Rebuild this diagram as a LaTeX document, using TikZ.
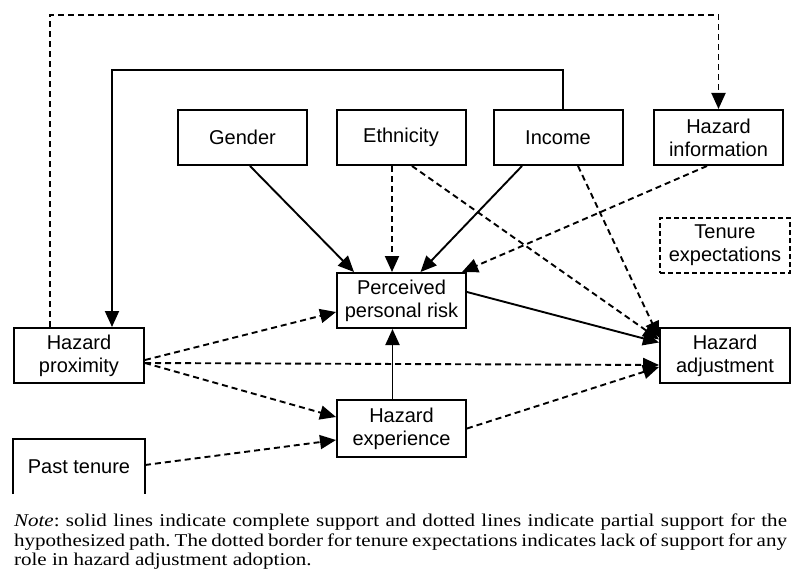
\documentclass[tikz,border=0pt]{standalone}
\usepackage{fontspec}
\setmainfont{Liberation Serif}
\newfontfamily\boxfont{Liberation Sans}
\newfontfamily\notefont[FakeStretch=1.17]{Liberation Serif}
\usepackage{tikz}
\usetikzlibrary{positioning,calc,arrows.meta}

\tikzset{
    varbox/.style={draw, line width=2pt, minimum width=129pt, minimum height=55pt,
        align=center, inner sep=2pt, font=\boxfont\fontsize{20}{23}\selectfont},
    emptybox/.style={varbox, draw=none},
    nobox/.style={varbox, line width=1.6pt, dash pattern=on 5pt off 3pt},
    sline/.style={line width=1.9pt, -{Triangle[length=16pt,width=14pt]}},
    dline/.style={sline, dash pattern=on 6pt off 4pt}
}

\begin{document}
\begin{tikzpicture}[x=1pt,y=-1pt]
    \useasboundingbox (0,0) rectangle (792,583);

    \node[varbox] (gender) at (242.5,137.5) {Gender};
    \node[varbox] (ethn) at (401,137.5) {Ethnicity};
    \node[varbox] (income) at (558,137.5) {Income};
    \node[varbox] (info) at (718.5,137.5) {Hazard\\information};
    \node[nobox, minimum width=130pt] (tenexp) at (725,245.5) {Tenure\\expectations};
    \node[varbox] (perc) at (401.5,300.5) {Perceived\\personal risk};
    \node[varbox, minimum width=130pt] (prox) at (79,355.5) {Hazard\\proximity};
    \node[varbox, minimum width=130pt] (adj) at (725,355.5) {Hazard\\adjustment};
    \node[varbox, minimum height=57pt] (exper) at (401.5,428.5) {Hazard\\experience};
    \node[emptybox, minimum width=130pt, minimum height=53pt] (past) at (79,466.5) {Past tenure};
    \draw[line width=2pt] (past.south west) -- (past.north west) -- (past.north east) -- (past.south east);

    \coordinate (dtop) at (0,15);
    \coordinate (stop) at (0,70);
    \coordinate (px) at ([xshift=33pt]prox.north);

    \draw[dline] ([xshift=-29pt]prox.north) |- (dtop -| info.north) -- (info.north);
    \draw[sline] ([xshift=5pt]income.north) |- (stop -| px) -- (px);

    \draw[sline] ([xshift=7.5pt]gender.south) -- ([xshift=18pt]perc.north west);
    \draw[dline] ([xshift=-9pt]ethn.south) -- ([xshift=-9.5pt]perc.north);
    \draw[dline] ([xshift=11pt]ethn.south) -- ([yshift=16pt]adj.west);
    \draw[sline] ([xshift=-36pt]income.south) -- ([xshift=19pt]perc.north);
    \draw[dline] ([xshift=20pt]income.south) -- ([yshift=18pt]adj.west);
    \draw[dline] ([xshift=-11.5pt]info.south) -- ([xshift=-5pt]perc.north east);
    \draw[sline] ([yshift=8.5pt]perc.east) -- ([yshift=13pt]adj.west);

    \draw[dline] ([yshift=-4.5pt]prox.east) -- ([yshift=-11.5pt]perc.west);
    \draw[dline] ([yshift=-7.5pt]prox.east) -- ([yshift=-9.5pt]adj.west);
    \draw[dline] ([yshift=-7.5pt]prox.east) -- ([yshift=11.5pt]exper.west);
    \draw[dline] ([yshift=1.5pt]past.east) -- ([yshift=-11.5pt]exper.west);
    \draw[sline] ([xshift=-9pt]exper.north) -- ([xshift=-9pt]perc.south);
    \draw[dline] (exper.east) -- ([yshift=-11.5pt]adj.west);

    \node[text width=773pt, align=justify, inner sep=0pt, font=\notefont\fontsize{18}{19.5}\selectfont] (note) at (400.5,542)
        {\frenchspacing\hyphenpenalty=10000 \textit{Note}: solid lines indicate complete support and dotted lines indicate partial support for the\linebreak
        hypothesized path. The dotted border for tenure expectations indicates lack of support for any\linebreak
        role in hazard adjustment adoption.};
\end{tikzpicture}
\end{document}
